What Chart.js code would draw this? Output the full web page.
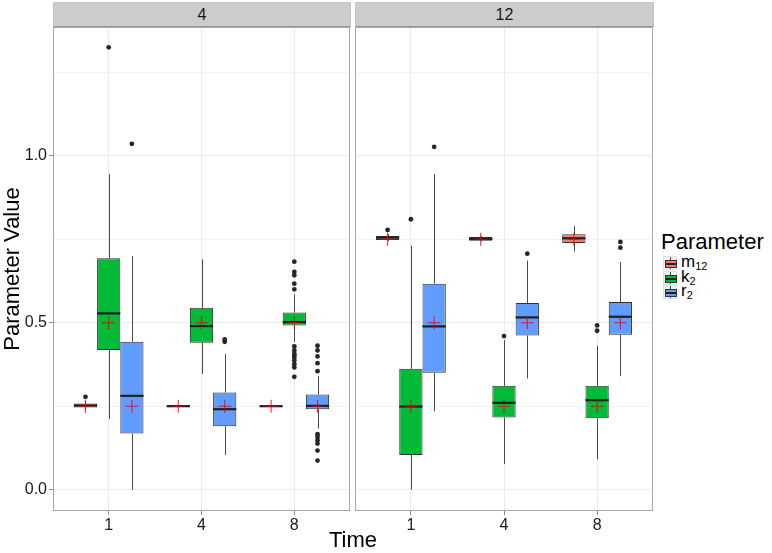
<!DOCTYPE html>
<html>
<head>
<meta charset="utf-8">
<script src="https://cdn.jsdelivr.net/npm/chart.js@4.4.1/dist/chart.umd.min.js"></script>
<style>
  html, body { margin:0; padding:0; background:#fff; }
  #wrap { position:relative; width:772px; height:553px; overflow:hidden; font-family:"Liberation Sans", Arial, sans-serif; }
  canvas { position:absolute; top:0; }
  .strip { position:absolute; top:2px; height:25px; background:#cccccc; box-sizing:border-box; border:1px solid #c4c4c4; border-bottom:1px solid #9a9a9a;
           text-align:center; font-size:16px; line-height:24px; color:#1a1a1a; }
  .title { position:absolute; font-size:22px; color:#000; white-space:nowrap; }
  .key { position:absolute; left:663px; width:14px; height:14px; background:#f2f2f2; box-sizing:border-box; border:1px solid #e0e0e0; }
  .key .wh { position:absolute; left:6px; top:0px; width:1px; height:12px; background:#444; }
  .key .bx { position:absolute; left:1px; top:3px; width:10px; height:6px; border:1px solid #333; }
  .key .md { position:absolute; left:0; right:0; top:2px; height:2px; background:#222; }
  .lab { position:absolute; left:681px; font-size:17px; color:#000; line-height:14px; }
  .lab sub { font-size:11px; vertical-align:-3px; line-height:0; }
</style>
</head>
<body>
<div id="wrap">
  <canvas id="c1" width="352" height="553" style="left:0px"></canvas>
  <canvas id="c2" width="302" height="553" style="left:353px"></canvas>
  <div class="strip" style="left:53px; width:298px;">4</div>
  <div class="strip" style="left:355px; width:299px;">12</div>
  <div class="title" style="left:303px; width:100px; top:527px; text-align:center; line-height:26px;">Time</div>
  <div class="title" style="left:661px; top:229px; line-height:26px;">Parameter</div>
  <div id="legend"></div>
</div>
<script>
// ---------------- data ----------------
const times = ['1', '4', '8'];
const panels = ['4', '12'];
const params = ['m12', 'k2', 'r2'];
const paramLabels = [['m', '12'], ['k', '2'], ['r', '2']];
const fillColors = ['#F8766D', '#00BA38', '#619CFF'];

// box stats per time: [lower whisker, Q1, median, Q3, upper whisker]
const box4_m12 = [[0.240, 0.246, 0.252, 0.258, 0.265], [0.248, 0.248, 0.250, 0.253, 0.254], [0.248, 0.249, 0.250, 0.252, 0.253]];
const box4_k2  = [[0.212, 0.418, 0.528, 0.693, 0.945], [0.347, 0.440, 0.490, 0.545, 0.690], [0.443, 0.492, 0.502, 0.531, 0.585]];
const box4_r2  = [[0.000, 0.168, 0.281, 0.443, 0.700], [0.104, 0.190, 0.241, 0.291, 0.406], [0.183, 0.241, 0.251, 0.285, 0.341]];
const box12_m12 = [[0.745, 0.748, 0.755, 0.760, 0.765], [0.744, 0.746, 0.751, 0.757, 0.760], [0.713, 0.739, 0.753, 0.765, 0.790]];
const box12_k2  = [[0.000, 0.104, 0.249, 0.362, 0.731], [0.077, 0.216, 0.260, 0.311, 0.448], [0.091, 0.214, 0.268, 0.311, 0.431]];
const box12_r2  = [[0.235, 0.350, 0.489, 0.617, 0.946], [0.333, 0.462, 0.516, 0.559, 0.686], [0.340, 0.464, 0.518, 0.562, 0.682]];

// means per time
const mean4_m12 = [0.25, 0.25, 0.25];
const mean4_k2  = [0.50, 0.50, 0.50];
const mean4_r2  = [0.25, 0.25, 0.25];
const mean12_m12 = [0.75, 0.75, 0.75];
const mean12_k2  = [0.25, 0.25, 0.25];
const mean12_r2  = [0.50, 0.50, 0.50];

// outliers per time
const out4_m12 = [[0.278], [], []];
const out4_k2  = [[1.325], [], [0.683, 0.652, 0.642, 0.617, 0.600, 0.429, 0.417, 0.407, 0.402, 0.395, 0.387, 0.376, 0.366, 0.338]];
const out4_r2  = [[1.036], [0.443, 0.450], [0.431, 0.417, 0.399, 0.379, 0.355, 0.166, 0.158, 0.148, 0.138, 0.117, 0.087]];
const out12_m12 = [[0.778], [], []];
const out12_k2  = [[0.810], [0.460], [0.492, 0.476]];
const out12_r2  = [[1.027], [0.707], [0.742, 0.725]];

const yTicks = [0, 0.25, 0.5, 0.75, 1.0, 1.25];
const yMin = -0.064, yMax = 1.386;

// ---------------- chart building ----------------
const FONT = '"Liberation Sans", Arial, sans-serif';
const dodge = 0.75;               // total dodge width in category units
const nP = params.length;
const offsetOf = (k) => (k - (nP - 1) / 2) * dodge / nP;

function buildDatasets(boxes, means, outs) {
  const ds = [];
  const meanPts = [];
  const outPts = [];
  params.forEach((p, k) => {
    times.forEach((t, i) => {
      meanPts.push({ x: i + 1 + offsetOf(k), y: means[k][i] });
      outs[k][i].forEach(v => outPts.push({ x: i + 1 + offsetOf(k), y: v }));
    });
  });
  ds.push({ type: 'scatter', label: 'mean', data: meanPts, order: 0,
            pointStyle: 'cross', pointRadius: 6.5, borderColor: 'rgba(235,0,0,0.8)', borderWidth: 1.1, backgroundColor: 'rgba(0,0,0,0)' });
  ds.push({ type: 'scatter', label: 'outliers', data: outPts, order: 1,
            pointStyle: 'circle', pointRadius: 2.4, backgroundColor: '#262626', borderWidth: 0 });
  params.forEach((p, k) => {
    ds.push({ type: 'bar', label: p, order: 2, stats: boxes[k],
              data: times.map((t, i) => ({ x: i + 1, y: [boxes[k][i][1], boxes[k][i][3]] })),
              backgroundColor: fillColors[k], borderColor: '#333333', borderWidth: 1, borderSkipped: false,
              categoryPercentage: dodge, barPercentage: 1.0, grouped: true });
  });
  return ds;
}

const boxPlugin = {
  id: 'boxWhisk',
  beforeDraw(chart) {
    const a = chart.chartArea, ctx = chart.ctx;
    ctx.save(); ctx.fillStyle = '#ffffff'; ctx.fillRect(a.left, a.top, a.right - a.left, a.bottom - a.top); ctx.restore();
  },
  beforeDatasetDraw(chart, args) {
    const ds = chart.data.datasets[args.index];
    if (!ds.stats) return;
    const y = chart.scales.y, ctx = chart.ctx;
    ctx.save(); ctx.strokeStyle = '#4a4a4a'; ctx.lineWidth = 1;
    args.meta.data.forEach((bar, i) => {
      const s = ds.stats[i]; const x = Math.round(bar.x) + 0.5;
      ctx.beginPath();
      ctx.moveTo(x, y.getPixelForValue(s[0])); ctx.lineTo(x, y.getPixelForValue(s[1]));
      ctx.moveTo(x, y.getPixelForValue(s[3])); ctx.lineTo(x, y.getPixelForValue(s[4]));
      ctx.stroke();
    });
    ctx.restore();
  },
  afterDatasetDraw(chart, args) {
    const ds = chart.data.datasets[args.index];
    if (!ds.stats) return;
    const y = chart.scales.y, ctx = chart.ctx;
    ctx.save(); ctx.strokeStyle = '#1f1f1f'; ctx.lineWidth = 2.2;
    args.meta.data.forEach((bar, i) => {
      const s = ds.stats[i]; const py = y.getPixelForValue(s[2]);
      ctx.beginPath(); ctx.moveTo(bar.x - bar.width / 2, py); ctx.lineTo(bar.x + bar.width / 2, py); ctx.stroke();
    });
    ctx.restore();
  },
  afterDraw(chart) {
    const a = chart.chartArea, ctx = chart.ctx;
    ctx.save(); ctx.strokeStyle = '#a6a6a6'; ctx.lineWidth = 1;
    ctx.strokeRect(Math.round(a.left) + 0.5, Math.round(a.top) + 0.5, Math.round(a.right - a.left) - 1, Math.round(a.bottom - a.top) - 1);
    ctx.restore();
  }
};

function makeChart(id, boxes, means, outs, showY) {
  const isMajor = (v) => Math.abs(v * 2 - Math.round(v * 2)) < 1e-9;
  return new Chart(document.getElementById(id), {
    type: 'bar',
    data: { datasets: buildDatasets(boxes, means, outs) },
    options: {
      responsive: false, animation: false, devicePixelRatio: 1,
      layout: { autoPadding: false, padding: { top: 27, bottom: 0, left: showY ? 0 : 2, right: 2 } },
      plugins: { legend: { display: false }, tooltip: { enabled: false } },
      scales: {
        x: {
          type: 'linear', min: 0.4, max: 3.6, offset: false,
          afterBuildTicks: (s) => { s.ticks = times.map((t, i) => ({ value: i + 1 })); },
          afterFit: (s) => { s.height = 42; s.paddingLeft = 0; s.paddingRight = 0; },
          ticks: { callback: (v, i) => times[i], font: { family: FONT, size: 16 }, color: '#1a1a1a', padding: 1, maxRotation: 0 },
          grid: { offset: false, color: '#ebebeb', lineWidth: 1, tickLength: 4, tickColor: '#8c8c8c' },
          border: { display: false },
          title: { display: false }
        },
        y: {
          type: 'linear', min: yMin, max: yMax,
          afterBuildTicks: (s) => { s.ticks = yTicks.map(v => ({ value: v })); },
          afterFit: (s) => { s.width = showY ? 53 : 0; s.paddingTop = 0; s.paddingBottom = 0; },
          ticks: { display: showY, callback: (v) => isMajor(v) ? v.toFixed(1) : '', font: { family: FONT, size: 16 }, color: '#1a1a1a', padding: 2 },
          grid: { color: (c) => (c.tick && isMajor(c.tick.value)) ? '#ebebeb' : '#f3f3f3', lineWidth: 1,
                  drawTicks: showY, tickLength: 4,
                  tickColor: (c) => (c.tick && isMajor(c.tick.value)) ? '#8c8c8c' : 'rgba(0,0,0,0)' },
          border: { display: false },
          title: { display: showY, text: 'Parameter Value', font: { family: FONT, size: 22 }, color: '#000', padding: { top: 0, bottom: 0 } }
        }
      }
    },
    plugins: [boxPlugin]
  });
}

makeChart('c1', [box4_m12, box4_k2, box4_r2], [mean4_m12, mean4_k2, mean4_r2], [out4_m12, out4_k2, out4_r2], true);
makeChart('c2', [box12_m12, box12_k2, box12_r2], [mean12_m12, mean12_k2, mean12_r2], [out12_m12, out12_k2, out12_r2], false);

// ---------------- legend ----------------
const leg = document.getElementById('legend');
params.forEach((p, k) => {
  const top = 256 + k * 14.5;
  const key = document.createElement('div');
  key.className = 'key'; key.style.top = top + 'px';
  key.innerHTML = '<div class="wh"></div><div class="bx" style="background:' + fillColors[k] + '"><div class="md"></div></div>';
  leg.appendChild(key);
  const lab = document.createElement('div');
  lab.className = 'lab'; lab.style.top = (top - 1) + 'px';
  lab.innerHTML = paramLabels[k][0] + '<sub>' + paramLabels[k][1] + '</sub>';
  leg.appendChild(lab);
});
</script>
</body>
</html>
